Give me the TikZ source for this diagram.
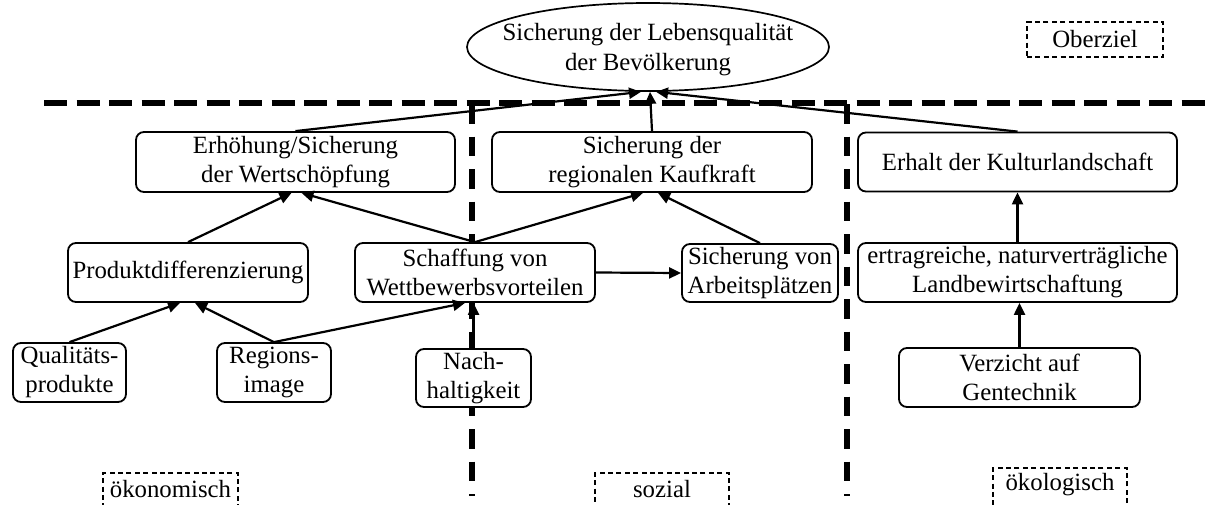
\documentclass[tikz,border=0pt]{standalone}
\usepackage{fontspec}
\setmainfont{Liberation Serif}
\usetikzlibrary{shapes.geometric,arrows.meta,calc}
\begin{document}
\begin{tikzpicture}[x=0.5pt,y=-0.5pt,
  every node/.style={font=\fontsize{12.4pt}{14.5pt}\selectfont},
  goal/.style={draw, rounded corners=4pt, fill=white, line width=0.9pt, align=center, inner sep=0pt},
  lbl/.style={draw, dash pattern=on 2.5pt off 1.7pt, line width=0.9pt, inner sep=0pt, minimum height=17.5pt},
  blbl/.style={lbl, anchor=north, minimum height=22pt, text height=8.4pt, text depth=5.4pt},
  arr/.style={line width=1.1pt, -{Triangle[length=6pt, width=5.5pt]}},
  hsep/.style={line width=3.2pt, dash pattern=on 11.5pt off 4.75pt},
  vsep/.style={line width=2.8pt, dash pattern=on 9.75pt off 6.5pt}
]
\clip (0,0) rectangle (1209,504);
\useasboundingbox (0,0) rectangle (1209,504);

% separators
\draw[hsep] (44,103) -- (1209,103);
\draw[vsep] (472,104) -- (472,496);
\draw[vsep] (847,104) -- (847,496);

% top goal
\node[ellipse, draw, line width=0.85pt, minimum width=181pt, minimum height=44pt, inner sep=0pt] (top) at (648,47) {};
\node[align=center, inner sep=0pt, font=\fontsize{12.4pt}{15pt}\selectfont] (toptext) at (648,50) {Sicherung der Lebensqualität\\der Bevölkerung};

% boxes
\node[goal, minimum width=159.5pt, minimum height=30pt] (erh) at (295.5,162) {Erhöhung/Sicherung\\der Wertschöpfung};
\node[goal, minimum width=160pt, minimum height=30pt] (kauf) at (652,162) {Sicherung der\\regionalen Kaufkraft};
\node[goal, minimum width=159.5pt, minimum height=29.5pt] (kult) at (1017.5,162) {Erhalt der Kulturlandschaft};
\node[goal, minimum width=120pt, minimum height=29.5pt] (prod) at (188,272.5) {Produktdifferenzierung};
\node[goal, minimum width=120pt, minimum height=29.5pt] (wett) at (475,272.5) {Schaffung von\\Wettbewerbsvorteilen};
\node[goal, minimum width=78pt, minimum height=29pt] (arb) at (760,273) {Sicherung von\\Arbeitsplätzen};
\node[goal, minimum width=159.5pt, minimum height=29.5pt] (land) at (1017.5,272.5) {ertragreiche, naturverträgliche\\Landbewirtschaftung};
\node[goal, minimum width=56.5pt, minimum height=29.5pt] (qual) at (69.5,372.5) {Qualitäts-\\produkte};
\node[goal, minimum width=57pt, minimum height=29.5pt] (reg) at (274,372.5) {Regions-\\image};
\node[goal, minimum width=57.5pt, minimum height=29pt] (nach) at (473.5,378) {Nach-\\haltigkeit};
\node[goal, minimum width=120.5pt, minimum height=29.5pt] (gen) at (1019.5,377.5) {Verzicht auf\\Gentechnik};

% labels
\node[lbl, minimum width=68pt] (ober) at (1095,39.5) {Oberziel};
\node[blbl, minimum width=67.5pt] (oek) at (170.5,472) {ökonomisch};
\node[blbl, minimum width=67pt] (soz) at (662,472) {sozial};
\node[blbl, minimum width=67pt, text depth=7.5pt] (oeko) at (1060,467) {ökologisch};

% connectors
\draw[arr] (erh.north) -- ($(top.south)+(-7,0)$);
\draw[arr] (kauf.north) -- ($(top.south)+(2,0)$);
\draw[arr] (kult.north) -- ($(top.south)+(8,0)$);
\draw[arr] (prod.north) -- ($(erh.south)+(-4,0)$);
\draw[arr] (wett.north) -- ($(erh.south)+(6,0)$);
\draw[arr] (wett.north) -- ($(kauf.south)+(-9,0)$);
\draw[arr] (arb.north) -- ($(kauf.south)+(6,0)$);
\draw[arr] (wett.east) -- (arb.west);
\draw[arr] (land.north) -- (kult.south);
\draw[arr] (gen.north) -- (gen.north |- land.south);
\draw[arr] (qual.north) -- ($(prod.south)+(-8,0)$);
\draw[arr] (reg.north) -- ($(prod.south)+(7,0)$);
\draw[arr] (reg.north) -- ($(wett.south)+(-10,0)$);
\draw[arr] (nach.north) -- (nach.north |- wett.south);
\end{tikzpicture}
\end{document}
